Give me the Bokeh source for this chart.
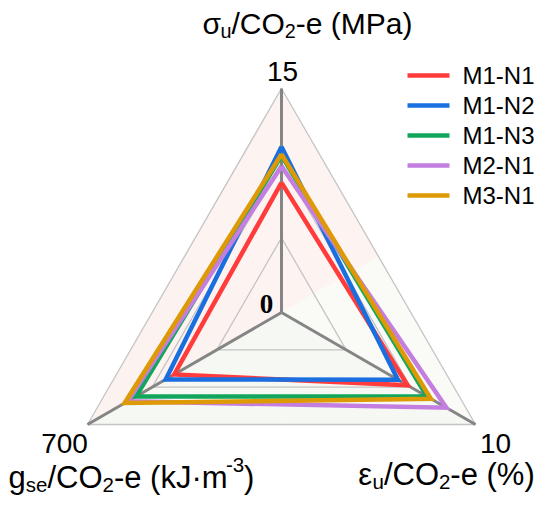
import math
from bokeh.plotting import figure
from bokeh.models import Range1d
from bokeh.core.properties import value
from bokeh.embed import file_html
from bokeh.resources import INLINE

# ---------------- data ----------------
axis_names = ["σu/CO2-e (MPa)", "εu/CO2-e (%)", "gse/CO2-e (kJ·m-3)"]
axis_max = [15, 10, 700]
axis_max_labels = ["15", "10", "700"]
axis_angles = [90, -30, 210]  # degrees
series_names = ["M1-N1", "M1-N2", "M1-N3", "M2-N1", "M3-N1"]
m1n1 = [8.7, 6.5, 387]
m1n2 = [11.1, 6.0, 418]
m1n3 = [10.5, 7.5, 525]
m2n1 = [9.8, 8.5, 555]
m3n1 = [10.6, 7.7, 566]
series_values = [m1n1, m1n2, m1n3, m2n1, m3n1]
series_colors = ["#ff3b3b", "#1a6fe0", "#12a65c", "#c47ee0", "#de9a06"]
grid_levels = [1 / 3, 2 / 3, 1.0]

# ---------------- layout ----------------
W, H = 550, 506
CX, CY, R = 281, 312, 224
FONT = "Liberation Sans"
TY = -9  # text baseline correction

p = figure(width=W, height=H, x_range=Range1d(0, W), y_range=Range1d(H, 0),
           output_backend="svg", toolbar_location=None, min_border=0)
p.axis.visible = False
p.grid.visible = False
p.outline_line_color = None
p.background_fill_color = "white"
p.border_fill_color = "white"


def pt(frac, ang):
    a = math.radians(ang)
    return CX + frac * R * math.cos(a), CY - frac * R * math.sin(a)


verts = [pt(1, a) for a in axis_angles]
mid = lambda a, b: ((a[0] + b[0]) / 2, (a[1] + b[1]) / 2)
top, br, bl = verts
# background sectors (6 sub-triangles)
sectors = [
    (top, mid(top, bl), "#fdf3f0"),
    (top, mid(top, br), "#fdf4f1"),
    (mid(top, bl), bl, "#fcf3f0"),
    (mid(top, br), br, "#fafaf6"),
    (bl, mid(bl, br), "#f6f8f3"),
    (br, mid(bl, br), "#f5f8f3"),
]
p.patches(xs=[[CX, a[0], b[0]] for a, b, c in sectors],
          ys=[[CY, a[1], b[1]] for a, b, c in sectors],
          fill_color=[c for a, b, c in sectors], line_color=None)

# grid triangles
for lv in grid_levels:
    pts = [pt(lv, a) for a in axis_angles]
    xs = [q[0] for q in pts] + [pts[0][0]]
    ys = [q[1] for q in pts] + [pts[0][1]]
    p.line(xs, ys, line_color="#c4c4c4", line_width=1.3)

# spokes
for a in axis_angles:
    x1, y1 = pt(1, a)
    p.line([CX, x1], [CY, y1], line_color="#858585", line_width=3)

# series
for name, vals, col in zip(series_names, series_values, series_colors):
    pts = [pt(v / m, a) for v, m, a in zip(vals, axis_max, axis_angles)]
    xs = [q[0] for q in pts] + [pts[0][0]]
    ys = [q[1] for q in pts] + [pts[0][1]]
    p.line(xs, ys, line_color=col, line_width=4.5, line_join="miter")

# ---------------- text helpers ----------------
CW = {"σ": 0.60, "ε": 0.46, "u": 0.556, "/": 0.278, "C": 0.722, "O": 0.778, "2": 0.556,
      "-": 0.333, "e": 0.556, " ": 0.278, "(": 0.333, "M": 0.833, "P": 0.667, "a": 0.556,
      ")": 0.333, "g": 0.556, "s": 0.5, "k": 0.5, "J": 0.5, "·": 0.278, "m": 0.833,
      "3": 0.556, "%": 0.889}


def rich(cx, base, segs, F):
    items = []
    for t, kind in segs:
        size = F if kind == "n" else 0.66 * F
        dy = 0 if kind == "n" else (0.24 * F if kind == "sub" else -0.40 * F)
        w = sum(CW.get(c, 0.556) for c in t) * size
        items.append((t, size, dy, w))
    total = sum(i[3] for i in items)
    x = cx - total / 2
    for t, size, dy, w in items:
        p.text(x=[x], y=[base + dy + TY], text=[t], text_font=value(FONT),
               text_font_size=f"{size:.1f}px", text_align="left",
               text_baseline="alphabetic", text_color="black")
        x += w


rich(307, 32, [("σ", "n"), ("u", "sub"), ("/CO", "n"), ("2", "sub"), ("-e (MPa)", "n")], 30)
rich(446, 483, [("ε", "n"), ("u", "sub"), ("/CO", "n"), ("2", "sub"), ("-e (%)", "n")], 31)
rich(131, 486, [("g", "n"), ("se", "sub"), ("/CO", "n"), ("2", "sub"), ("-e (kJ·m", "n"),
                ("-3", "sup"), (")", "n")], 31)

# axis max labels
lab_pos = [(282, 80), (495, 452), (64, 452)]
for (x, y), t in zip(lab_pos, axis_max_labels):
    p.text(x=[x], y=[y + TY], text=[t], text_font=value(FONT), text_font_size="28px",
           text_align="center", text_baseline="alphabetic", text_color="black")

# center zero
p.text(x=[266], y=[312 + TY], text=["0"], text_font=value("Liberation Serif"),
       text_font_size="27px", text_font_style="bold", text_align="center",
       text_baseline="alphabetic", text_color="black")

# legend
for i, (name, col) in enumerate(zip(series_names, series_colors)):
    yc = 75 + 30 * i
    p.line([407, 449], [yc, yc], line_color=col, line_width=4.5)
    p.text(x=[462], y=[yc + 8.5 + TY], text=[name], text_font=value(FONT),
           text_font_size="24px", text_align="left", text_baseline="alphabetic",
           text_color="black")

open("out.html", "w").write(file_html(p, INLINE))
